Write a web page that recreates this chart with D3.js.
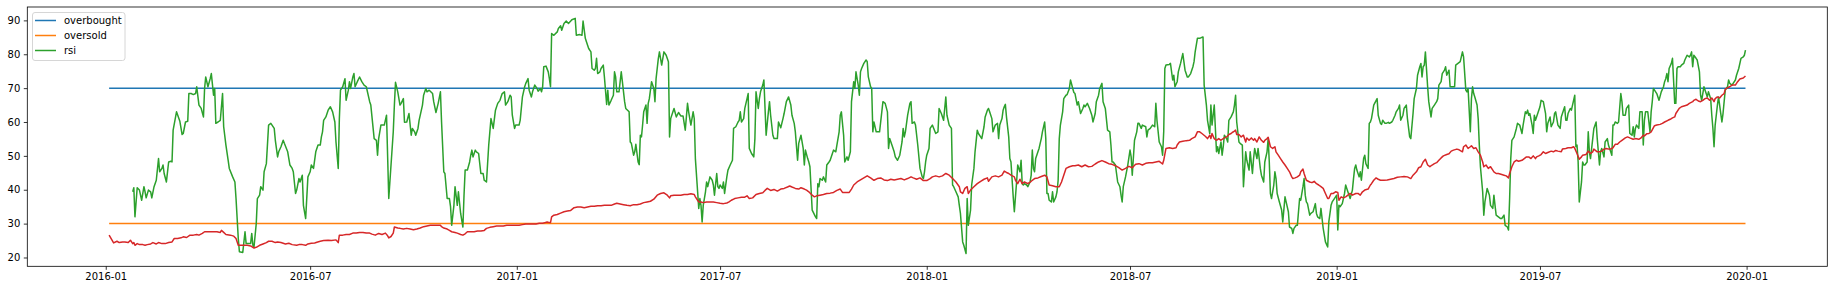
<!DOCTYPE html>
<html>
<head>
<meta charset="utf-8">
<script src="https://cdn.jsdelivr.net/npm/d3@7"></script>
<style>
  body { margin: 0; background: #fff; }
  svg { display: block; font-family: "DejaVu Sans", sans-serif; }
</style>
</head>
<body>
<div id="chart"></div>
<script>
// series names, in legend order (the red line has no label)
const legendLabels = ["overbought", "oversold", "rsi"];

// the two flat levels run over the whole trading period
const levelDates = ["2016-01-04", "2019-12-31"];
const overbought = [70, 70];
const oversold = [30, 30];

// months covered; day lists and values below are grouped by these months
const months = [
  "2016-01", "2016-02", "2016-03", "2016-04", "2016-05", "2016-06", "2016-07", "2016-08", "2016-09", "2016-10", "2016-11", "2016-12",
  "2017-01", "2017-02", "2017-03", "2017-04", "2017-05", "2017-06", "2017-07", "2017-08", "2017-09", "2017-10", "2017-11", "2017-12",
  "2018-01", "2018-02", "2018-03", "2018-04", "2018-05", "2018-06", "2018-07", "2018-08", "2018-09", "2018-10", "2018-11", "2018-12",
  "2019-01", "2019-02", "2019-03", "2019-04", "2019-05", "2019-06", "2019-07", "2019-08", "2019-09", "2019-10", "2019-11", "2019-12"
];

const rsiDays = [
  [25, 26, 27, 29, 31],
  [2, 4, 5, 6, 8, 10, 11, 13, 15, 17, 18, 20, 21, 22, 24, 26, 28, 29],
  [1, 4, 7, 9, 10, 12, 14, 15, 17, 19, 21, 22, 24, 26, 28, 29, 30],
  [1, 3, 4, 6, 7, 8, 10, 12, 14, 15, 17, 19, 20, 23, 25, 26, 28, 29],
  [2, 4, 5, 7, 9, 10, 11, 12, 14, 15, 17, 18, 20, 21, 23, 25, 27, 30, 31],
  [2, 3, 5, 7, 8, 11, 13, 15, 16, 18, 19, 21, 22, 24, 25, 27, 29],
  [1, 2, 4, 6, 8, 10, 11, 12, 13, 15, 17, 19, 21, 23, 24, 26, 27, 28, 30],
  [1, 2, 4, 5, 6, 8, 9, 10, 12, 14, 16, 18, 20, 23, 24, 27, 29, 30, 31],
  [2, 5, 7, 9, 11, 13, 14, 15, 17, 19, 20, 22, 23, 25, 27, 29, 30],
  [2, 3, 5, 6, 9, 10, 12, 13, 15, 18, 19, 21, 23, 25, 26, 28, 29, 31],
  [2, 3, 4, 6, 7, 9, 10, 12, 14, 15, 16, 18, 20, 21, 22, 23, 25, 26, 28, 30],
  [2, 3, 5, 7, 8, 9, 11, 13, 15, 17, 19, 21, 22, 24, 26, 27, 28, 30, 31],
  [3, 4, 6, 8, 9, 11, 12, 14, 15, 17, 19, 20, 22, 23, 24, 25, 27, 29, 30, 31],
  [1, 3, 6, 7, 9, 10, 12, 14, 16, 18, 19, 22, 23, 26, 28],
  [1, 3, 4, 6, 8, 9, 11, 12, 13, 14, 16, 17, 19, 20, 22, 23, 24, 26, 28, 29, 30, 31],
  [2, 4, 5, 7, 8, 11, 12, 13, 15, 16, 17, 19, 20, 21, 22, 23, 24, 26, 27, 28, 29],
  [1, 3, 4, 5, 7, 8, 10, 12, 14, 16, 17, 18, 20, 21, 23, 25, 27, 29, 31],
  [2, 3, 5, 7, 8, 9, 11, 12, 13, 14, 15, 16, 18, 19, 20, 22, 24, 25, 26, 28, 29, 30],
  [1, 3, 4, 5, 7, 8, 10, 12, 13, 15, 17, 18, 19, 20, 22, 23, 25, 26, 27, 29, 31],
  [1, 2, 4, 5, 6, 8, 9, 11, 12, 13, 14, 15, 17, 18, 21, 22, 24, 26, 27, 29, 31],
  [2, 3, 5, 6, 8, 9, 11, 13, 14, 15, 17, 18, 19, 21, 24, 25, 26, 27, 28, 30],
  [1, 3, 4, 6, 7, 9, 10, 12, 13, 15, 16, 17, 19, 20, 22, 23, 25, 26, 28, 29, 30],
  [1, 2, 3, 4, 6, 8, 9, 10, 12, 13, 14, 15, 17, 20, 23, 25, 27, 28, 29],
  [1, 3, 4, 6, 8, 10, 11, 12, 13, 15, 17, 18, 19, 21, 22, 24, 26, 28, 29, 30, 31],
  [1, 3, 4, 6, 9, 11, 12, 14, 16, 18, 19, 21, 23, 24, 25, 27, 29, 30, 31],
  [2, 3, 5, 6, 7, 9, 10, 12, 13, 15, 16, 19, 21, 22, 24, 25, 26, 28],
  [1, 3, 5, 6, 7, 9, 10, 11, 12, 13, 15, 16, 17, 19, 20, 22, 23, 25, 26, 27, 28, 29, 31],
  [1, 3, 4, 5, 6, 7, 8, 10, 11, 12, 13, 14, 16, 17, 18, 19, 20, 22, 23, 24, 26, 27, 28, 29, 30],
  [2, 3, 5, 6, 8, 9, 11, 12, 13, 15, 16, 18, 20, 21, 22, 24, 26, 28, 29, 31],
  [1, 3, 4, 6, 7, 9, 11, 13, 14, 15, 16, 18, 19, 20, 22, 23, 24, 25, 27, 29],
  [1, 2, 3, 5, 7, 8, 9, 11, 12, 15, 16, 17, 19, 21, 23, 24, 25, 27, 29, 30, 31],
  [1, 2, 5, 6, 8, 9, 10, 12, 13, 15, 17, 19, 21, 22, 24, 26, 27, 28, 30],
  [1, 3, 4, 5, 7, 8, 10, 11, 12, 14, 15, 16, 17, 18, 20, 21, 22, 23, 25, 26, 27, 29],
  [1, 2, 3, 4, 6, 7, 9, 10, 12, 13, 15, 16, 18, 19, 20, 22, 23, 25, 26, 28, 29, 31],
  [1, 2, 3, 4, 6, 7, 8, 9, 11, 13, 14, 16, 17, 19, 20, 22, 23, 24, 26, 27, 29, 30],
  [2, 3, 4, 5, 6, 8, 9, 11, 13, 14, 15, 17, 18, 20, 22, 24, 25, 27, 28, 30],
  [1, 2, 3, 4, 6, 8, 9, 10, 12, 13, 15, 16, 17, 18, 19, 21, 22, 23, 25, 26, 27, 29, 30, 31],
  [1, 3, 6, 7, 9, 10, 11, 13, 14, 16, 17, 19, 20, 22, 23, 25, 26, 27],
  [1, 2, 4, 5, 7, 8, 10, 11, 13, 14, 16, 17, 18, 19, 20, 21, 23, 24, 26, 27, 29, 31],
  [1, 2, 4, 5, 7, 8, 9, 11, 12, 14, 16, 17, 19, 21, 23, 24, 26, 27, 28, 30],
  [1, 2, 3, 4, 6, 7, 8, 9, 11, 12, 13, 15, 17, 18, 20, 21, 22, 23, 25, 27, 28, 30, 31],
  [2, 3, 4, 5, 6, 8, 10, 11, 13, 15, 16, 18, 19, 20, 21, 22, 24, 25, 26, 27, 29],
  [1, 2, 4, 6, 7, 8, 10, 11, 13, 14, 15, 16, 17, 19, 20, 21, 23, 24, 25, 26, 28, 29, 30],
  [1, 2, 3, 4, 5, 7, 8, 9, 10, 12, 13, 14, 15, 17, 18, 20, 21, 23, 24, 25, 27, 28, 30, 31],
  [2, 3, 4, 5, 6, 8, 9, 11, 12, 13, 15, 16, 18, 19, 21, 22, 23, 24, 25, 27, 28, 30],
  [1, 2, 3, 4, 5, 7, 8, 9, 10, 11, 13, 15, 17, 19, 20, 21, 22, 23, 24, 26, 27, 29, 30, 31],
  [1, 3, 4, 6, 7, 9, 11, 12, 13, 14, 15, 17, 18, 20, 21, 22, 23, 24, 26, 27, 28, 30],
  [1, 2, 3, 4, 6, 7, 9, 10, 11, 12, 13, 15, 16, 17, 19, 22, 23, 25, 27, 29, 30, 31]
];

const rsiValues = [
  [39.4, 40.6, 32.0, 40.6, 39.9],
  [36.9, 40.9, 39.4, 37.6, 39.9, 39.4, 37.6, 40.9, 42.8, 49.2, 45.3, 46.3, 47.3, 44.8, 42.3, 48.2, 48.4, 48.2],
  [57.6, 63.0, 60.2, 56.3, 56.6, 60.0, 60.2, 68.4, 68.4, 68.1, 68.4, 70.4, 65.0, 64.0, 61.5, 69.9, 73.3],
  [70.4, 72.8, 74.3, 67.9, 69.9, 59.6, 60.0, 60.5, 68.4, 58.6, 53.2, 48.7, 46.3, 43.8, 42.3, 37.4, 25.6, 21.7],
  [21.5, 27.6, 24.1, 24.1, 24.1, 27.1, 23.6, 23.1, 30.0, 37.4, 38.4, 40.9, 39.9, 45.3, 47.7, 59.1, 59.6, 58.1, 54.6],
  [49.7, 51.2, 52.7, 54.6, 53.7, 51.2, 47.3, 46.3, 45.3, 38.9, 39.9, 43.3, 42.3, 44.3, 35.4, 31.5, 43.8],
  [45.3, 47.3, 46.3, 51.2, 53.2, 53.2, 55.6, 57.1, 60.5, 61.5, 63.5, 64.5, 63.0, 60.0, 54.1, 46.3, 61.0, 69.4, 70.4],
  [72.8, 66.4, 69.4, 71.9, 69.9, 73.3, 74.3, 70.4, 71.9, 73.3, 71.9, 70.9, 70.4, 66.0, 65.0, 55.1, 54.6, 50.2, 55.1],
  [59.1, 59.1, 62.0, 37.4, 47.3, 57.1, 65.0, 71.7, 68.9, 65.0, 65.5, 66.9, 59.9, 60.0, 62.5, 56.1, 58.1],
  [57.1, 56.1, 58.1, 60.5, 65.0, 67.9, 69.9, 68.9, 69.4, 68.4, 66.0, 62.8, 65.5, 68.9, 60.0, 45.3, 44.8, 37.4],
  [37.4, 35.0, 29.5, 35.4, 40.9, 35.4, 39.4, 33.0, 29.0, 38.4, 45.8, 45.8, 48.2, 50.2, 51.7, 49.7, 51.7, 51.2, 50.7, 44.8],
  [44.8, 42.8, 42.3, 53.2, 57.1, 61.0, 58.1, 63.5, 65.5, 66.4, 68.4, 68.9, 65.0, 66.0, 67.9, 67.4, 62.0, 58.1, 59.1],
  [59.1, 60.5, 67.4, 70.4, 71.4, 72.8, 69.4, 67.4, 68.9, 70.9, 69.9, 69.1, 69.9, 68.9, 70.4, 76.3, 76.5, 74.8, 72.8, 70.4],
  [86.1, 85.6, 86.6, 87.6, 88.4, 87.1, 89.1, 89.8, 89.1, 89.8, 90.2, 90.6, 85.6, 85.8, 85.6],
  [89.8, 84.7, 83.7, 81.7, 80.7, 75.8, 75.3, 75.8, 78.8, 74.3, 74.8, 75.8, 76.8, 73.3, 65.2, 69.4, 65.0, 66.4, 67.9, 74.8, 73.3, 68.9],
  [68.9, 74.8, 71.9, 66.0, 64.0, 63.0, 54.1, 53.7, 50.2, 51.2, 53.4, 48.2, 47.4, 56.1, 55.6, 59.1, 63.0, 65.0, 59.6, 65.5, 66.9],
  [71.9, 69.9, 66.0, 72.8, 78.7, 80.7, 76.8, 80.7, 79.7, 77.8, 55.6, 61.0, 63.0, 64.0, 61.5, 62.8, 61.8, 61.8, 57.6],
  [65.5, 63.0, 59.1, 63.0, 61.0, 49.2, 39.4, 34.5, 37.4, 35.4, 30.5, 35.4, 39.4, 42.3, 40.9, 43.8, 42.8, 41.4, 38.4, 44.8, 40.9, 40.4],
  [41.4, 40.4, 42.3, 38.9, 43.8, 45.8, 47.3, 48.7, 58.1, 58.6, 60.0, 60.5, 63.0, 60.0, 61.0, 64.0, 66.9, 68.4, 52.2, 50.7, 49.7],
  [55.1, 68.9, 64.0, 66.9, 68.9, 70.9, 72.4, 56.1, 59.6, 63.0, 66.0, 62.0, 56.1, 55.1, 55.1, 60.0, 58.3, 61.0, 62.5, 66.0, 67.4],
  [65.0, 62.0, 59.6, 57.1, 48.7, 53.7, 56.1, 52.2, 47.3, 51.7, 49.2, 48.2, 46.8, 34.0, 32.0, 31.5, 41.8, 40.9, 43.3, 42.8],
  [43.8, 42.3, 47.3, 48.2, 48.7, 50.7, 51.7, 51.2, 53.2, 57.1, 62.0, 63.0, 56.1, 48.2, 49.7, 48.7, 51.2, 66.0, 71.9, 69.9, 74.8],
  [70.9, 67.9, 74.8, 75.8, 77.3, 78.3, 77.8, 73.3, 70.4, 69.9, 57.1, 60.0, 57.1, 57.1, 66.0, 65.5, 63.0, 52.2, 55.1],
  [53.2, 51.2, 49.7, 48.7, 50.2, 54.1, 58.1, 55.6, 57.1, 62.0, 65.5, 66.0, 59.6, 60.0, 59.1, 53.2, 46.3, 43.8, 43.3, 45.3, 48.2],
  [50.2, 52.2, 58.1, 59.1, 56.6, 57.1, 64.0, 62.5, 60.5, 67.4, 62.0, 59.1, 58.1, 41.4, 40.9, 39.4, 37.9, 35.4, 33.0],
  [24.6, 23.6, 21.2, 37.4, 29.5, 34.0, 41.4, 46.3, 51.2, 57.6, 56.6, 55.1, 58.6, 61.5, 63.5, 64.0, 63.0, 61.0],
  [57.1, 59.1, 59.6, 55.1, 59.1, 61.0, 63.5, 64.5, 65.2, 61.5, 55.6, 49.2, 48.2, 37.9, 33.5, 42.3, 47.3, 45.3, 48.7, 41.8, 41.4, 41.8, 41.4],
  [40.9, 42.3, 44.3, 51.7, 46.3, 45.3, 49.2, 51.2, 52.2, 53.7, 55.1, 57.1, 60.0, 55.1, 38.9, 38.9, 36.9, 36.4, 39.4, 36.4, 37.9, 39.4, 42.8, 55.1, 59.1],
  [63.0, 66.9, 67.9, 68.1, 69.9, 72.4, 69.9, 68.7, 68.4, 65.0, 66.0, 62.5, 64.0, 65.0, 64.5, 65.5, 64.0, 62.0, 60.0, 62.5],
  [66.0, 67.9, 69.9, 71.4, 66.0, 64.0, 57.6, 57.1, 53.2, 48.2, 48.2, 47.3, 44.8, 42.3, 40.9, 38.4, 36.4, 40.9, 43.8, 47.3],
  [51.7, 49.7, 44.3, 54.6, 57.1, 59.6, 59.6, 58.1, 59.1, 58.6, 55.6, 57.6, 58.1, 59.1, 58.6, 65.5, 60.5, 54.1, 52.7, 50.2, 57.1],
  [75.8, 76.8, 77.0, 77.3, 72.4, 73.8, 70.4, 71.9, 74.8, 77.3, 80.2, 75.3, 73.3, 73.3, 74.3, 76.3, 77.8, 80.7, 84.7],
  [84.7, 85.0, 85.1, 70.9, 65.0, 60.5, 56.6, 65.0, 59.1, 65.0, 58.1, 51.2, 52.7, 50.7, 54.1, 50.2, 52.7, 56.1, 55.1, 54.1, 60.5, 61.5],
  [63.0, 65.0, 67.9, 60.0, 54.1, 53.7, 53.2, 40.9, 51.2, 48.7, 45.8, 51.2, 44.8, 49.2, 52.2, 49.2, 52.2, 46.3, 44.3, 42.3, 48.2, 51.2],
  [55.1, 48.2, 38.9, 37.4, 41.4, 45.3, 43.3, 38.9, 36.4, 34.0, 30.5, 37.9, 36.4, 33.5, 29.0, 28.6, 27.1, 28.6, 29.5, 29.5, 37.4, 36.9],
  [40.9, 43.3, 38.4, 36.4, 35.9, 32.5, 33.0, 33.5, 35.9, 33.0, 32.0, 31.5, 34.5, 28.6, 24.6, 23.1, 30.5, 35.4, 36.4, 37.4],
  [38.4, 28.1, 35.4, 35.0, 35.9, 38.9, 41.4, 40.4, 38.4, 37.4, 39.9, 43.3, 46.3, 47.3, 45.8, 43.8, 45.3, 42.8, 49.2, 50.2, 47.7, 46.3, 59.6, 60.0],
  [61.0, 65.0, 66.9, 62.0, 59.6, 59.3, 60.5, 59.6, 59.6, 59.9, 59.6, 60.0, 60.5, 62.0, 63.0, 64.0, 65.0, 60.5],
  [62.0, 64.0, 65.0, 61.0, 55.6, 55.1, 62.5, 66.9, 69.9, 73.8, 76.3, 77.3, 73.3, 76.3, 76.8, 80.7, 70.4, 66.0, 61.5, 64.0, 65.0, 66.0],
  [66.9, 70.9, 71.9, 74.3, 75.3, 76.3, 73.8, 75.3, 70.4, 70.4, 70.4, 76.8, 77.3, 77.8, 80.7, 79.2, 69.4, 68.9, 69.9, 57.1],
  [66.9, 70.4, 68.4, 67.4, 65.0, 61.0, 53.2, 46.8, 39.4, 32.5, 36.4, 40.4, 38.4, 35.4, 34.5, 38.4, 35.4, 32.5, 32.0, 31.5, 31.5, 32.5, 29.5],
  [29.0, 28.1, 37.4, 49.2, 54.6, 55.6, 58.1, 59.6, 59.1, 56.6, 59.1, 63.0, 62.5, 63.5, 62.0, 62.5, 59.1, 56.6, 62.0, 60.5, 62.5],
  [64.5, 66.4, 66.0, 62.5, 57.1, 59.6, 61.5, 58.6, 60.0, 62.5, 63.0, 61.0, 59.1, 58.1, 61.5, 62.5, 64.5, 60.5, 60.5, 62.5, 64.0, 63.5, 65.0],
  [67.9, 52.7, 53.2, 48.2, 36.4, 42.3, 48.2, 47.3, 47.3, 48.2, 57.1, 51.2, 49.2, 55.1, 58.1, 60.0, 55.1, 47.3, 51.2, 52.2, 49.7, 54.1, 55.1, 53.2],
  [51.2, 50.2, 59.1, 59.1, 60.0, 59.6, 60.0, 68.4, 66.0, 62.0, 62.0, 64.0, 65.0, 56.6, 56.1, 58.6, 55.6, 58.1, 59.1, 58.1, 63.0, 63.0],
  [53.2, 60.5, 63.0, 63.0, 63.0, 57.1, 63.0, 66.0, 69.9, 69.4, 68.4, 66.4, 68.9, 70.4, 71.9, 72.8, 74.3, 71.9, 75.8, 77.3, 78.8, 65.5, 65.5, 75.8],
  [76.3, 76.3, 76.8, 77.3, 78.3, 79.7, 79.2, 79.7, 80.7, 76.3, 79.7, 78.8, 78.3, 74.8, 67.9, 66.4, 68.4, 70.4, 68.4, 67.4, 68.9, 66.9],
  [62.0, 58.1, 52.7, 59.1, 65.0, 67.4, 62.5, 60.0, 62.5, 66.0, 69.4, 70.4, 72.4, 71.4, 70.9, 72.4, 73.8, 75.8, 78.8, 79.2, 79.7, 81.2]
];

// the unlabelled red line
const avgDays = [
  [4, 8, 11, 13, 16, 18, 21, 23, 25, 26, 27, 29, 31],
  [3, 5, 7, 10, 12, 15, 17, 20, 23, 26, 29],
  [2, 5, 8, 10, 13, 16, 19, 22, 24, 27, 29],
  [1, 4, 7, 9, 12, 13, 15, 17, 21, 24, 26, 28, 30],
  [2, 6, 9, 12, 14, 17, 20, 23, 25, 28, 31],
  [2, 5, 7, 9, 12, 15, 19, 21, 24, 27, 29],
  [2, 5, 7, 10, 13, 17, 20, 24, 26, 27, 30],
  [2, 5, 8, 11, 14, 17, 20, 23, 25, 28, 31],
  [3, 6, 8, 9, 11, 13, 14, 17, 19, 22, 25, 28],
  [1, 4, 7, 10, 13, 16, 19, 22, 25, 26, 28, 31],
  [2, 4, 7, 9, 12, 14, 16, 18, 21, 24, 27, 30],
  [3, 5, 8, 11, 14, 17, 20, 23, 26, 28, 31],
  [3, 6, 9, 12, 15, 18, 21, 24, 26, 28, 30, 31],
  [1, 3, 6, 9, 12, 15, 18, 21, 24, 27],
  [2, 5, 8, 11, 14, 17, 20, 23, 26, 29, 31],
  [3, 6, 9, 12, 15, 18, 21, 24, 27, 30],
  [3, 6, 9, 12, 15, 17, 18, 21, 24, 27, 30],
  [2, 5, 8, 9, 11, 12, 14, 16, 19, 22, 25, 28],
  [1, 4, 7, 9, 11, 14, 17, 20, 23, 25, 27, 30],
  [2, 5, 8, 10, 12, 15, 18, 21, 24, 27, 30],
  [1, 3, 6, 9, 11, 14, 16, 18, 21, 23, 25, 28],
  [1, 4, 7, 10, 13, 16, 18, 21, 24, 26, 28, 31],
  [3, 6, 9, 12, 15, 18, 21, 24, 27, 30],
  [3, 6, 9, 12, 15, 18, 20, 23, 26, 29],
  [1, 4, 6, 9, 12, 15, 18, 21, 24, 27, 30, 31],
  [2, 4, 6, 7, 9, 12, 15, 18, 21, 24, 25, 28],
  [3, 6, 9, 11, 13, 15, 17, 20, 21, 23, 25, 27, 29],
  [1, 4, 7, 10, 13, 16, 18, 20, 23, 26, 29],
  [1, 3, 5, 8, 11, 13, 16, 19, 22, 25, 28, 31],
  [3, 6, 9, 12, 15, 18, 21, 24, 27, 30],
  [3, 6, 9, 12, 15, 18, 21, 24, 27, 30, 31],
  [2, 5, 8, 11, 12, 14, 17, 20, 23, 25, 28, 30],
  [1, 3, 6, 8, 10, 11, 12, 14, 16, 18, 20, 21, 23, 25, 27, 29, 30],
  [2, 3, 4, 6, 8, 10, 12, 13, 15, 17, 19, 20, 22, 24, 26, 28, 29, 31],
  [1, 3, 5, 7, 8, 10, 12, 14, 16, 18, 20, 22, 23, 25, 27, 29, 30],
  [2, 3, 5, 8, 10, 12, 14, 16, 18, 20, 22, 24, 25, 27, 29, 31],
  [2, 3, 5, 7, 9, 11, 13, 15, 18, 20, 22, 24, 26, 29, 31],
  [1, 3, 5, 7, 9, 12, 15, 18, 21, 24, 27],
  [2, 5, 8, 10, 13, 15, 17, 19, 21, 23, 25, 27, 29, 31],
  [2, 4, 6, 9, 11, 13, 15, 18, 20, 23, 24, 26, 28, 30],
  [1, 3, 5, 7, 9, 11, 12, 14, 16, 18, 20, 21, 23, 25, 28, 30],
  [1, 3, 4, 6, 8, 10, 12, 15, 17, 19, 21, 23, 25, 27, 28, 30],
  [2, 4, 6, 8, 11, 13, 15, 17, 20, 21, 24, 26, 29, 31],
  [1, 3, 5, 7, 8, 11, 13, 15, 17, 18, 21, 23, 25, 27, 29, 31],
  [2, 4, 6, 8, 10, 12, 15, 17, 19, 22, 24, 27, 29],
  [1, 2, 4, 6, 8, 11, 13, 16, 18, 20, 23, 25, 27, 29, 30],
  [2, 4, 7, 9, 11, 14, 15, 17, 19, 21, 23, 25, 27, 29],
  [1, 3, 4, 6, 8, 10, 12, 13, 15, 17, 19, 22, 24, 26, 29, 31]
];

const avgValues = [
  [26.6, 24.3, 24.8, 24.4, 24.6, 24.6, 24.4, 25.1, 24.1, 24.4, 23.6, 24.1, 23.8],
  [23.8, 23.6, 23.8, 24.0, 24.4, 24.0, 24.4, 24.1, 24.1, 24.4, 24.6],
  [25.6, 25.6, 25.8, 26.1, 25.9, 26.6, 26.6, 26.8, 26.6, 27.1, 27.6],
  [27.6, 27.6, 27.6, 27.6, 27.4, 28.0, 27.4, 26.8, 26.6, 26.3, 25.6, 23.6, 23.6],
  [23.6, 23.6, 23.4, 22.8, 23.0, 23.6, 24.0, 24.4, 24.8, 24.8, 24.4],
  [24.6, 24.4, 24.2, 24.0, 24.2, 23.8, 23.6, 23.8, 23.8, 23.6, 24.0],
  [24.2, 24.3, 24.5, 24.8, 25.0, 25.1, 25.0, 25.2, 24.4, 26.6, 26.6],
  [26.8, 26.8, 27.2, 27.2, 27.4, 27.4, 27.2, 27.2, 26.9, 26.6, 27.1],
  [26.8, 27.2, 26.4, 25.8, 26.2, 27.2, 29.0, 28.7, 28.6, 28.4, 28.6, 28.4],
  [28.2, 28.4, 28.7, 29.1, 29.3, 29.5, 29.5, 29.5, 29.5, 29.1, 28.7, 28.4],
  [28.0, 27.6, 27.4, 27.2, 26.8, 26.6, 27.0, 27.6, 27.6, 27.6, 27.8, 27.8],
  [28.0, 28.6, 28.9, 29.1, 29.3, 29.3, 29.3, 29.5, 29.5, 29.5, 29.5],
  [29.5, 29.7, 29.9, 29.9, 29.9, 29.9, 30.1, 30.1, 30.3, 30.5, 30.3, 30.3],
  [32.0, 32.5, 32.7, 33.1, 33.5, 33.7, 33.9, 34.7, 34.9, 34.9],
  [34.7, 34.9, 35.1, 35.1, 35.3, 35.3, 35.4, 35.4, 35.4, 35.8, 36.0],
  [35.8, 35.6, 35.4, 35.3, 35.6, 35.6, 35.8, 36.2, 36.4, 36.6],
  [37.2, 38.4, 38.9, 39.1, 38.4, 37.6, 38.2, 38.4, 38.4, 38.4, 38.6],
  [38.6, 38.8, 38.6, 37.9, 36.9, 36.4, 36.4, 36.2, 36.4, 36.4, 36.4, 36.2],
  [36.0, 35.9, 36.1, 36.4, 36.9, 37.4, 37.6, 37.8, 37.8, 38.2, 37.4, 37.6],
  [38.6, 38.9, 39.1, 39.8, 40.4, 39.8, 40.1, 39.6, 40.2, 40.4, 40.8],
  [41.1, 40.8, 40.4, 40.2, 40.6, 40.2, 39.9, 39.4, 38.4, 37.9, 38.2, 38.4],
  [38.6, 38.9, 39.0, 39.2, 39.8, 40.2, 39.2, 39.2, 39.2, 40.2, 41.4, 42.3],
  [42.9, 43.5, 44.1, 43.5, 42.8, 43.3, 43.5, 42.9, 42.7, 43.1],
  [42.9, 43.1, 43.3, 42.9, 43.3, 43.8, 43.5, 43.1, 43.5, 42.7],
  [42.7, 43.3, 43.8, 44.1, 43.8, 44.1, 44.8, 44.3, 43.3, 42.3, 40.9, 39.4],
  [38.9, 40.4, 40.9, 38.9, 39.9, 40.9, 41.8, 42.5, 43.1, 43.5, 42.5, 43.8],
  [44.1, 43.8, 44.3, 45.5, 45.1, 44.8, 44.3, 43.8, 42.8, 41.8, 43.1, 41.8, 42.3],
  [41.8, 42.5, 43.3, 43.5, 43.9, 44.3, 43.8, 41.4, 41.2, 40.9, 40.9],
  [42.3, 44.3, 46.3, 46.8, 47.1, 47.1, 47.3, 46.8, 47.3, 46.8, 46.9, 47.6],
  [48.2, 48.6, 48.2, 47.7, 47.5, 47.1, 46.5, 45.8, 46.3, 46.9],
  [46.5, 47.5, 47.7, 47.3, 47.8, 48.0, 48.0, 48.2, 48.4, 47.6, 48.7],
  [52.2, 52.4, 52.2, 52.4, 53.2, 54.1, 54.3, 54.5, 54.6, 55.1, 55.6, 57.1],
  [57.1, 56.6, 55.8, 55.1, 56.1, 55.1, 56.6, 55.1, 54.6, 55.1, 54.6, 54.9, 55.3, 55.6, 56.3, 56.6, 56.9],
  [57.3, 57.6, 56.3, 56.3, 55.6, 56.1, 54.1, 55.3, 54.6, 55.3, 54.6, 55.1, 54.1, 55.6, 54.6, 54.0, 54.6, 55.1],
  [55.5, 52.7, 52.2, 52.7, 51.2, 50.2, 49.2, 48.2, 47.3, 46.3, 45.3, 43.8, 43.3, 43.5, 43.8, 44.3, 45.3],
  [46.1, 44.8, 42.8, 42.3, 42.1, 42.5, 41.8, 41.4, 40.9, 40.4, 38.9, 37.4, 37.4, 38.9, 38.9, 39.4],
  [39.2, 36.9, 37.9, 37.6, 37.9, 38.4, 38.9, 38.4, 38.9, 38.9, 38.4, 39.4, 39.9, 40.2, 41.4],
  [41.8, 42.8, 43.5, 43.1, 42.8, 42.8, 42.9, 43.1, 43.3, 43.7, 43.8],
  [43.9, 43.8, 43.3, 44.3, 45.3, 46.5, 46.8, 48.2, 49.0, 47.3, 46.8, 47.3, 47.7, 48.0],
  [48.7, 49.4, 50.0, 50.4, 50.6, 51.4, 51.7, 52.0, 51.8, 51.2, 52.7, 53.2, 52.2, 52.7],
  [53.0, 52.2, 52.4, 51.2, 50.2, 48.2, 46.8, 47.3, 46.3, 46.8, 45.8, 45.3, 44.8, 44.8, 44.5, 44.3],
  [44.1, 43.5, 44.8, 46.8, 48.2, 48.7, 48.4, 48.7, 49.2, 49.7, 49.7, 49.2, 50.0, 49.2, 49.7, 50.0],
  [50.4, 51.2, 50.7, 51.0, 51.4, 51.2, 51.6, 51.4, 51.2, 52.0, 52.2, 52.4, 52.4, 52.7],
  [52.2, 50.7, 49.0, 49.7, 50.2, 50.4, 51.4, 50.7, 51.2, 52.0, 51.2, 51.2, 51.4, 52.0, 52.2, 52.0],
  [52.0, 52.4, 53.4, 53.4, 54.1, 54.6, 55.3, 55.6, 55.3, 54.9, 55.1, 54.9, 55.3],
  [56.1, 55.9, 56.5, 56.6, 57.1, 58.9, 59.1, 59.3, 59.6, 60.0, 60.5, 60.8, 61.2, 61.5, 62.5],
  [64.0, 64.5, 64.8, 65.0, 65.5, 66.0, 66.4, 66.7, 66.2, 66.0, 66.4, 66.9, 67.1, 66.4],
  [67.1, 66.0, 66.9, 67.4, 67.1, 67.9, 68.4, 69.7, 70.1, 70.4, 70.9, 70.9, 71.9, 72.7, 73.0, 73.6]
];

const yTicks = [20, 30, 40, 50, 60, 70, 80, 90];
const yDomain = [17.4, 93.95];

const colors = ["#1f77b4", "#ff7f0e", "#2ca02c", "#d62728"];

const parseDate = d3.timeParse("%Y-%m-%d");

function toSeries(days, values) {
  return months.flatMap((m, i) =>
    days[i].map((d, j) => ({
      date: parseDate(m + "-" + String(d).padStart(2, "0")),
      value: values[i][j],
    }))
  );
}

function graph(id) {
  const width = 1834;
  const height = 290;
  const margin = { top: 7, right: 6.7, bottom: 23.7, left: 27.3 };
  const plotW = width - margin.left - margin.right;
  const plotH = height - margin.top - margin.bottom;

  const rsi = toSeries(rsiDays, rsiValues);
  const avg = toSeries(avgDays, avgValues);
  const levelHigh = levelDates.map((d, i) => ({ date: parseDate(d), value: overbought[i] }));
  const levelLow = levelDates.map((d, i) => ({ date: parseDate(d), value: oversold[i] }));

  // matplotlib style 5% margin around the dates
  const first = levelHigh[0].date;
  const last = levelHigh[levelHigh.length - 1].date;
  const pad = (last - first) * 0.05;

  const x = d3
    .scaleTime()
    .domain([new Date(+first - pad), new Date(+last + pad)])
    .range([0, plotW]);

  const y = d3.scaleLinear().domain(yDomain).range([plotH, 0]);

  const svg = d3
    .select(id)
    .append("svg")
    .attr("width", width)
    .attr("height", height);

  const g = svg
    .append("g")
    .attr("transform", `translate(${margin.left},${margin.top})`);

  const line = d3
    .line()
    .x((d) => x(d.date))
    .y((d) => y(d.value));

  const series = [levelHigh, levelLow, rsi, avg];
  series.forEach((data, i) => {
    g.append("path")
      .datum(data)
      .attr("fill", "none")
      .attr("stroke", colors[i])
      .attr("stroke-width", 1.5)
      .attr("stroke-linejoin", "round")
      .attr("d", line);
  });

  // axes
  const yAxis = g
    .append("g")
    .call(d3.axisLeft(y).tickValues(yTicks).tickSize(3.5).tickPadding(3.5));

  const xAxis = g
    .append("g")
    .attr("transform", `translate(0,${plotH})`)
    .call(
      d3
        .axisBottom(x)
        .ticks(d3.timeMonth.every(6))
        .tickFormat(d3.timeFormat("%Y-%m"))
        .tickSize(3.5)
        .tickPadding(3.5)
    );

  [xAxis, yAxis].forEach((ax) => {
    ax.select(".domain").remove();
    ax.selectAll(".tick line").attr("stroke", "#000").attr("stroke-width", 0.8);
    ax.selectAll(".tick text")
      .attr("fill", "#000")
      .style("font-family", '"DejaVu Sans", sans-serif')
      .style("font-size", "10px");
  });

  // frame
  g.append("rect")
    .attr("width", plotW)
    .attr("height", plotH)
    .attr("fill", "none")
    .attr("stroke", "#000")
    .attr("stroke-width", 0.8);

  // legend
  const legend = svg.append("g").attr("transform", "translate(32.5,12.5)");
  legend
    .append("rect")
    .attr("width", 92.5)
    .attr("height", 48)
    .attr("rx", 2.5)
    .attr("fill", "#fff")
    .attr("fill-opacity", 0.8)
    .attr("stroke", "#d6d6d6")
    .attr("stroke-width", 1);

  legendLabels.forEach((label, i) => {
    const cy = 8 + i * 15;
    legend
      .append("line")
      .attr("x1", 2.5)
      .attr("x2", 23.5)
      .attr("y1", cy)
      .attr("y2", cy)
      .attr("stroke", colors[i])
      .attr("stroke-width", 1.5);
    legend
      .append("text")
      .attr("x", 31.5)
      .attr("y", cy)
      .attr("dy", "0.35em")
      .attr("fill", "#000")
      .style("font-size", "10px")
      .text(label);
  });
}

graph("#chart");
</script>
</body>
</html>
